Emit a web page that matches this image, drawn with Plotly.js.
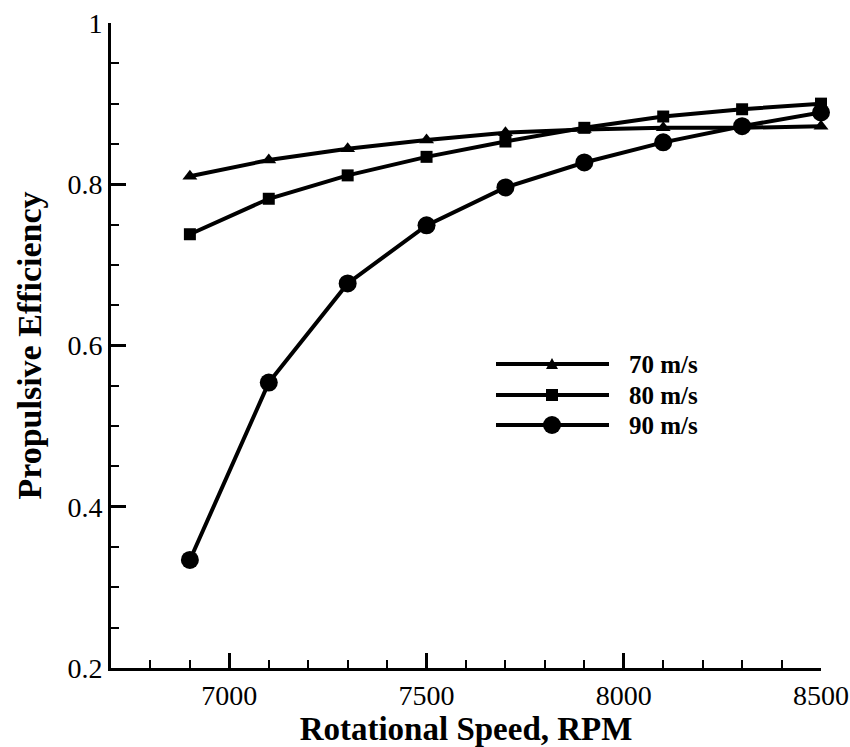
<!DOCTYPE html>
<html>
<head>
<meta charset="utf-8">
<script src="https://cdn.plot.ly/plotly-3.0.1.min.js"></script>
<style>html,body{margin:0;padding:0;background:#fff;}#chart{width:850px;height:747px;}</style>
</head>
<body>
<div id="chart"></div>
<script>
var rpm = [6900, 7100, 7300, 7500, 7700, 7900, 8100, 8300, 8500];
var eff70 = [0.810, 0.830, 0.844, 0.855, 0.864, 0.868, 0.870, 0.870, 0.872];
var eff80 = [0.738, 0.782, 0.811, 0.834, 0.853, 0.870, 0.884, 0.893, 0.900];
var eff90 = [0.334, 0.554, 0.677, 0.749, 0.796, 0.827, 0.852, 0.872, 0.889];
var seriesNames = ["70 m/s", "80 m/s", "90 m/s"];
var xTickVals = [7000, 7500, 8000, 8500];
var yTickVals = [0.2, 0.4, 0.6, 0.8, 1];
var yTickText = ["0.2", "0.4", "0.6", "0.8", "1"];

var serif = "Liberation Serif, Times New Roman, serif";

function tr(y, sym, size, name) {
  return {
    x: rpm, y: y, type: "scatter", mode: "lines+markers", name: name,
    line: {color: "black", width: 4},
    marker: {symbol: sym, size: size, color: "black"},
    cliponaxis: false, showlegend: false
  };
}
var data = [
  tr(eff70, "triangle-up", 13, seriesNames[0]),
  tr(eff80, "square", 12, seriesNames[1]),
  tr(eff90, "circle", 18, seriesNames[2])
];

// manual legend (long line sample with centred marker)
var L = 111, R = 821, T = 23, B = 668;
function px(x) { return (x - L) / (R - L); }
function py(y) { return (B - y) / (B - T); }
var rows = [364, 395, 425];
var shapes = [], annotations = [];
var mx = px(552);
rows.forEach(function (ry, i) {
  shapes.push({type: "line", xref: "paper", yref: "paper", x0: px(496), x1: px(609), y0: py(ry), y1: py(ry),
    line: {color: "black", width: 4}});
  annotations.push({xref: "paper", yref: "paper", x: px(627), y: py(ry), xanchor: "left", yanchor: "middle",
    text: "<b>" + seriesNames[i] + "</b>", showarrow: false, font: {family: serif, size: 25, color: "black"}});
});
// markers for legend
shapes.push({type: "path", xref: "paper", yref: "paper", xsizemode: "pixel", ysizemode: "pixel",
  xanchor: mx, yanchor: py(rows[0]), path: "M-6,-5L6,-5L0,6Z", fillcolor: "black", line: {width: 0}});
shapes.push({type: "rect", xref: "paper", yref: "paper", xsizemode: "pixel", ysizemode: "pixel",
  xanchor: mx, yanchor: py(rows[1]), x0: -6, x1: 6, y0: -6, y1: 6, fillcolor: "black", line: {width: 0}});
shapes.push({type: "circle", xref: "paper", yref: "paper", xsizemode: "pixel", ysizemode: "pixel",
  xanchor: mx, yanchor: py(rows[2]), x0: -9, x1: 9, y0: -9, y1: 9, fillcolor: "black", line: {width: 0}});

var layout = {
  width: 850, height: 747,
  margin: {l: L, r: 850 - R, t: T, b: 747 - B},
  paper_bgcolor: "white", plot_bgcolor: "white",
  showlegend: false,
  xaxis: {
    range: [6700, 8500], showgrid: false, zeroline: false,
    showline: true, linecolor: "black", linewidth: 3,
    ticks: "inside", ticklen: 15, tickwidth: 3, tickcolor: "black",
    tickvals: xTickVals, ticktext: xTickVals.map(String),
    tickfont: {family: serif, size: 28, color: "black"},
    minor: {dtick: 100, tick0: 6700, ticks: "inside", ticklen: 8, tickwidth: 2, tickcolor: "black", showgrid: false},
    title: {text: "<b>Rotational Speed, RPM</b>", font: {family: serif, size: 33, color: "black"}, standoff: 8}
  },
  yaxis: {
    range: [0.2, 1], showgrid: false, zeroline: false,
    showline: true, linecolor: "black", linewidth: 3,
    ticks: "inside", ticklen: 15, tickwidth: 3, tickcolor: "black",
    tickvals: yTickVals, ticktext: yTickText,
    tickfont: {family: serif, size: 28, color: "black"},
    minor: {dtick: 0.05, tick0: 0.2, ticks: "inside", ticklen: 8, tickwidth: 2, tickcolor: "black", showgrid: false},
    title: {text: "<b>Propulsive Efficiency</b>", font: {family: serif, size: 34, color: "black"}, standoff: 16}
  },
  shapes: shapes,
  annotations: annotations
};
Plotly.newPlot("chart", data, layout, {displayModeBar: false, staticPlot: true});
</script>
</body>
</html>
